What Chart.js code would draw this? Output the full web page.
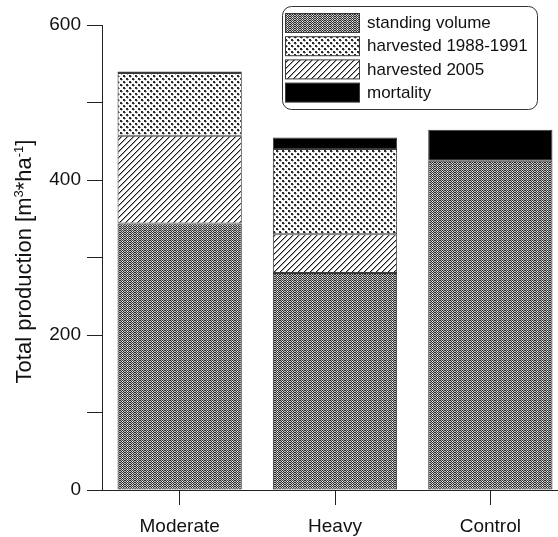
<!DOCTYPE html>
<html>
<head>
<meta charset="utf-8">
<script src="https://cdn.jsdelivr.net/npm/chart.js@4.4.1/dist/chart.umd.min.js"></script>
<style>
  html, body { margin: 0; padding: 0; background: #fff; overflow: hidden; }
  #wrap { width: 558px; height: 537px; overflow: hidden; }
</style>
</head>
<body>
<div id="wrap">
  <canvas id="prodChart" width="568" height="537"></canvas>
</div>
<script>
// treatments and stacked volumes (m3/ha)
const categories = ['Moderate', 'Heavy', 'Control'];
const standingVolume = [344, 280, 425];
const harvested2005 = [113, 50, null];
const harvested8891 = [81, 110, null];
const mortality = [2, 15, 40];
const yTickLabels = [0, 200, 400, 600];

const FONT = '"Liberation Sans", Arial, Helvetica, sans-serif';

function makePattern(w, h, paint) {
  const c = document.createElement('canvas');
  c.width = w;
  c.height = h;
  const g = c.getContext('2d');
  paint(g);
  return document.createElement('canvas').getContext('2d').createPattern(c, 'repeat');
}

function px(g, x, y, col) {
  g.fillStyle = col;
  g.fillRect(x, y, 1, 1);
}

// fine grey checker with light specks
const standingFill = makePattern(5, 4, g => {
  for (let y = 0; y < 4; y++) {
    for (let x = 0; x < 5; x++) {
      px(g, x, y, (x + y) % 2 ? '#b8b8b8' : '#303030');
    }
  }
  px(g, 2, 1, '#ffffff');
  px(g, 2, 3, '#e8e8e8');
});

// staggered dark dots on white
const dotsFill = makePattern(6, 6, g => {
  g.fillStyle = '#fff';
  g.fillRect(0, 0, 6, 6);
  g.fillStyle = '#2a2a2a';
  g.fillRect(0, 0, 2, 2);
  g.fillRect(3, 3, 2, 2);
  px(g, 2, 1, '#888');
  px(g, 5, 4, '#888');
  px(g, 1, 2, '#aaa');
  px(g, 4, 5, '#aaa');
});

// forward diagonal hatch
const hatchFill = makePattern(6, 6, g => {
  g.fillStyle = '#fff';
  g.fillRect(0, 0, 6, 6);
  for (let i = 0; i < 6; i++) {
    px(g, i, 5 - i, '#1a1a1a');
    px(g, (i + 1) % 6, 5 - i, '#a0a0a0');
  }
});

const datasets = [
  { label: 'standing volume', data: standingVolume, backgroundColor: standingFill, legendOrder: 0 },
  { label: 'harvested 2005', data: harvested2005, backgroundColor: hatchFill, legendOrder: 2 },
  { label: 'harvested 1988-1991', data: harvested8891, backgroundColor: dotsFill, legendOrder: 1 },
  { label: 'mortality', data: mortality, backgroundColor: '#000000', legendOrder: 3 }
].map(d => Object.assign(d, {
  borderColor: '#3a3a3a',
  borderWidth: 1,
  borderSkipped: false,
  barPercentage: 0.8,
  categoryPercentage: 1
}));

// rotated y title with superscripts
const yTitlePlugin = {
  id: 'yTitle',
  afterDraw(chart) {
    const ctx = chart.ctx;
    const parts = [
      { t: 'Total production [m', sup: false },
      { t: '3', sup: true },
      { t: '*ha', sup: false },
      { t: '-1', sup: true },
      { t: ']', sup: false }
    ];
    const big = '22px ' + FONT;
    const small = '13px ' + FONT;
    ctx.save();
    let total = 0;
    parts.forEach(p => {
      ctx.font = p.sup ? small : big;
      p.w = ctx.measureText(p.t).width;
      total += p.w;
    });
    ctx.translate(24, 261.5);
    ctx.rotate(-Math.PI / 2);
    ctx.fillStyle = '#111';
    ctx.textBaseline = 'alphabetic';
    let x = -total / 2;
    parts.forEach(p => {
      ctx.font = p.sup ? small : big;
      ctx.fillText(p.t, x, p.sup ? -1 : 7);
      x += p.w;
    });
    ctx.restore();
  }
};

// boxed legend in the upper right
const boxLegendPlugin = {
  id: 'boxLegend',
  afterDraw(chart) {
    const ctx = chart.ctx;
    const bx = 282.5, by = 6.5, bw = 255, bh = 103;
    ctx.save();
    ctx.beginPath();
    ctx.roundRect(bx, by, bw, bh, 9);
    ctx.fillStyle = '#fff';
    ctx.fill();
    ctx.strokeStyle = '#333';
    ctx.lineWidth = 1;
    ctx.stroke();
    const items = chart.data.datasets.slice().sort((a, b) => a.legendOrder - b.legendOrder);
    ctx.font = '17px ' + FONT;
    ctx.textBaseline = 'middle';
    items.forEach((d, i) => {
      const y = 13.5 + i * 23.2;
      ctx.fillStyle = d.backgroundColor;
      ctx.fillRect(285.5, y, 74, 19);
      ctx.strokeStyle = '#3a3a3a';
      ctx.strokeRect(285.5, y, 74, 19);
      ctx.fillStyle = '#111';
      ctx.fillText(d.label, 367, y + 10);
    });
    ctx.restore();
  }
};

new Chart(document.getElementById('prodChart').getContext('2d'), {
  type: 'bar',
  data: { labels: categories, datasets: datasets },
  options: {
    responsive: false,
    animation: false,
    layout: { padding: { top: 25, right: 0, bottom: 0, left: 0 } },
    plugins: {
      legend: { display: false },
      tooltip: { enabled: false }
    },
    scales: {
      x: {
        stacked: true,
        grid: { offset: false, drawOnChartArea: false, tickLength: 15, color: '#222' },
        border: { color: '#222', width: 1 },
        ticks: { font: { family: FONT, size: 19 }, color: '#111', padding: 10 },
        afterFit(s) { s.height = 47; }
      },
      y: {
        stacked: true,
        min: 0,
        max: 600,
        grid: { drawOnChartArea: false, tickLength: 15, color: '#222' },
        border: { color: '#222', width: 1 },
        ticks: {
          stepSize: 100,
          font: { family: FONT, size: 19 },
          color: '#111',
          padding: 6,
          callback: v => yTickLabels.includes(v) ? String(v) : ''
        },
        afterFit(s) { s.width = 102; }
      }
    }
  },
  plugins: [yTitlePlugin, boxLegendPlugin]
});
</script>
</body>
</html>
